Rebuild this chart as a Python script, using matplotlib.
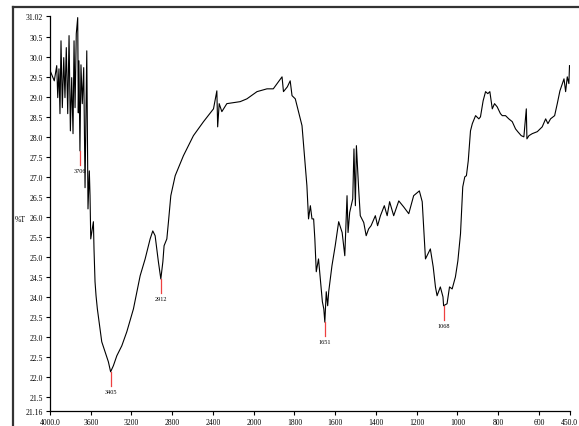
import numpy as np
import matplotlib
matplotlib.use('Agg')
import matplotlib.pyplot as plt
from matplotlib.lines import Line2D

plt.rcParams['font.family'] = ['Liberation Serif', 'DejaVu Serif']

# IR spectrum (wavenumber cm-1, %T)
wavenumber = [3995, 3958, 3934, 3924, 3912, 3902, 3892, 3879, 3865, 3853,
              3840, 3826, 3813, 3800, 3787, 3774, 3764, 3754, 3742, 3728,
              3722, 3716, 3706, 3696, 3683, 3669, 3656, 3639, 3627, 3614,
              3607, 3600, 3574, 3568, 3558, 3548, 3535, 3492, 3459, 3427,
              3405, 3378, 3344, 3295, 3246, 3181, 3115, 3066, 3017, 2991,
              2968, 2936, 2912, 2892, 2880, 2853, 2837, 2814, 2771, 2690,
              2592, 2493, 2395, 2362, 2354, 2339, 2313, 2264, 2133, 2067,
              1984, 1935, 1904, 1861, 1854, 1835, 1821, 1812, 1796, 1780,
              1763, 1747, 1739, 1731, 1722, 1714, 1706, 1700, 1693, 1682,
              1670, 1663, 1656, 1651, 1644, 1637, 1632, 1616, 1600, 1583,
              1566, 1553, 1542, 1537, 1529, 1514, 1508, 1501, 1496, 1485,
              1477, 1460, 1448, 1436, 1424, 1403, 1392, 1378, 1359, 1345,
              1333, 1313, 1288, 1264, 1239, 1215, 1187, 1173, 1157, 1133,
              1119, 1108, 1100, 1084, 1071, 1068, 1051, 1039, 1026, 1010,
              998, 985, 974, 964, 956, 947, 936, 927, 911, 895,
              887, 874, 862, 851, 841, 829, 818, 805, 789, 780,
              764, 748, 731, 715, 704, 687, 674, 662, 659, 649,
              633, 608, 584, 567, 556, 543, 523, 510, 497, 485,
              477, 469, 461, 453, 450]
transmittance = [29.63, 29.40, 29.78, 28.98, 29.70, 28.58, 30.40, 28.73, 29.98, 28.98,
                 30.23, 28.58, 30.53, 28.15, 29.48, 28.08, 30.40, 28.73, 30.58, 30.98,
                 28.60, 29.90, 27.65, 29.80, 28.83, 29.73, 26.73, 30.15, 26.20, 27.15,
                 26.53, 25.45, 25.88, 25.20, 24.38, 24.03, 23.70, 22.88, 22.63, 22.38,
                 22.13, 22.28, 22.53, 22.78, 23.13, 23.70, 24.53, 24.95, 25.45, 25.65,
                 25.53, 24.88, 24.45, 24.88, 25.28, 25.45, 25.88, 26.53, 27.03, 27.53,
                 28.03, 28.38, 28.70, 29.15, 28.25, 28.83, 28.63, 28.83, 28.88, 28.95,
                 29.13, 29.20, 29.20, 29.50, 29.13, 29.25, 29.40, 29.03, 28.95, 28.63,
                 28.28, 27.28, 26.78, 25.95, 26.28, 25.95, 25.95, 25.45, 24.63, 24.95,
                 24.28, 23.88, 23.70, 23.37, 24.13, 23.78, 24.13, 24.78, 25.28, 25.88,
                 25.61, 25.03, 26.53, 25.61, 26.11, 26.45, 27.70, 26.28, 27.78, 26.70,
                 26.03, 25.86, 25.53, 25.70, 25.78, 26.03, 25.78, 26.03, 26.28, 26.03,
                 26.38, 26.03, 26.40, 26.25, 26.08, 26.53, 26.65, 26.38, 24.95, 25.20,
                 24.75, 24.25, 24.03, 24.25, 24.00, 23.78, 23.83, 24.25, 24.20, 24.50,
                 24.90, 25.58, 26.75, 27.00, 27.03, 27.40, 28.15, 28.33, 28.53, 28.45,
                 28.50, 28.90, 29.13, 29.08, 29.13, 28.70, 28.83, 28.75, 28.58, 28.53,
                 28.53, 28.45, 28.38, 28.20, 28.13, 28.03, 28.00, 28.70, 27.95, 28.03,
                 28.08, 28.13, 28.25, 28.45, 28.33, 28.45, 28.53, 28.83, 29.15, 29.33,
                 29.45, 29.13, 29.50, 29.33, 29.78]

peaks = [3706, 3405, 2912, 1651, 1068]
peak_T = [27.65, 22.13, 24.45, 23.37, 23.78]

x_ticks = [4000, 3600, 3200, 2800, 2400, 2000, 1800, 1600, 1400, 1200, 1000, 800, 600, 450]
x_labels = ['4000.0', '3600', '3200', '2800', '2400', '2000', '1800', '1600',
            '1400', '1200', '1000', '800', '600', '450.0']
y_ticks = [21.16, 21.5, 22.0, 22.5, 23.0, 23.5, 24.0, 24.5, 25.0, 25.5, 26.0,
           26.5, 27.0, 27.5, 28.0, 28.5, 29.0, 29.5, 30.0, 30.5, 31.02]
y_labels = ['21.16'] + ['%.1f' % v for v in y_ticks[1:-1]] + ['31.02']


# scale is halved above 2000 cm-1 like the instrument printout
def fwd(w):
    w = np.asarray(w, dtype=float)
    return np.where(w > 2000, 2000 + (w - 2000) / 2, w)


def inv(u):
    u = np.asarray(u, dtype=float)
    return np.where(u > 2000, 2000 + 2 * (u - 2000), u)


fig = plt.figure(figsize=(5.79, 4.27), dpi=100)
ax = fig.add_axes([50 / 579, 15.4 / 427, 519.5 / 579, 394.6 / 427])
ax.set_xscale('function', functions=(fwd, inv))

ax.plot(wavenumber, transmittance, color='black', lw=0.8)

for w, t in zip(peaks, peak_T):
    ax.plot([w, w], [t, t - 0.35], color='#ee4040', lw=0.9)
    ax.text(w, t - 0.42, str(w), fontsize=4.5, ha='center', va='top')

ax.set_xlim(4000, 450)
ax.set_ylim(21.16, 31.02)
ax.set_xticks(x_ticks)
ax.set_xticklabels(x_labels, fontsize=5.5)
ax.set_yticks(y_ticks)
ax.set_yticklabels(y_labels, fontsize=5.5)
ax.minorticks_off()
ax.tick_params(length=3, width=0.8, pad=2)

ax.spines['top'].set_visible(False)
ax.spines['right'].set_visible(False)
ax.spines['left'].set_linewidth(0.9)
ax.spines['bottom'].set_linewidth(0.9)

fig.text(15 / 579, 1 - 220 / 427, '%T', fontsize=5.5, va='center', ha='left')

# outer frame of the printout (top and left edges)
fig.add_artist(Line2D([12.5 / 579, 1], [1 - 7.5 / 427, 1 - 7.5 / 427],
                      transform=fig.transFigure, color='#333333', lw=1.6))
fig.add_artist(Line2D([12.5 / 579, 12.5 / 579], [0, 1 - 7.5 / 427],
                      transform=fig.transFigure, color='#333333', lw=1.6))

fig.savefig('out.png', dpi=100)
